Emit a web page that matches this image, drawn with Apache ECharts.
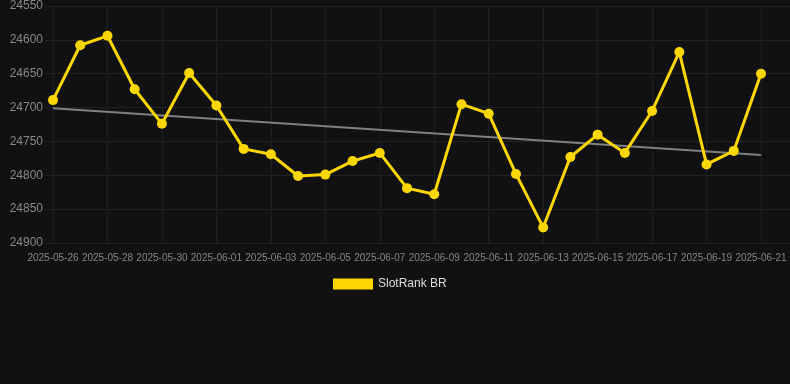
<!DOCTYPE html>
<html>
<head>
<meta charset="utf-8">
<script src="https://cdn.jsdelivr.net/npm/echarts@6/dist/echarts.min.js"></script>
<style>
html,body{margin:0;padding:0;background:#111111;}
#chart{width:790px;height:384px;}
</style>
</head>
<body>
<div id="chart"></div>
<script>
const categories = ['2025-05-26','2025-05-27','2025-05-28','2025-05-29','2025-05-30','2025-05-31','2025-06-01','2025-06-02','2025-06-03','2025-06-04','2025-06-05','2025-06-06','2025-06-07','2025-06-08','2025-06-09','2025-06-10','2025-06-11','2025-06-12','2025-06-13','2025-06-14','2025-06-15','2025-06-16','2025-06-17','2025-06-18','2025-06-19','2025-06-20','2025-06-21'];
const rankValues = [24689,24608,24594,24673,24724,24649,24697,24761,24769,24801,24799,24779,24767,24819,24828,24695,24709,24798,24877,24773,24740,24767,24705,24618,24784,24764,24650];
const trendEnds = [24701, 24770];
const seriesName = 'SlotRank BR';
const yMin = 24550, yMax = 24900, yStep = 50;

const chart = echarts.init(document.getElementById('chart'), null, {renderer:'canvas'});
chart.setOption({
  backgroundColor: '#111111',
  animation: false,
  legend: {
    data: [seriesName],
    top: 278,
    left: 333,
    padding: 0,
    icon: 'rect',
    itemWidth: 40,
    itemHeight: 11,
    itemGap: 10,
    textStyle: {color: '#dddddd', fontSize: 12, fontFamily: 'Liberation Sans, Arial, sans-serif'}
  },
  grid: [
    {left: 53, right: 29, top: 6, bottom: 141, containLabel: false},
    {left: 45, right: 0, top: 6, bottom: 141, containLabel: false}
  ],
  xAxis: [
    {
      type: 'category', gridIndex: 0, data: categories, boundaryGap: false,
      axisLine: {show: false},
      axisTick: {show: false},
      axisLabel: {interval: 1, color: '#858585', fontSize: 10, fontFamily: 'Liberation Sans, Arial, sans-serif', margin: 10},
      splitLine: {show: true, interval: 1, lineStyle: {color: '#1f1f1f', width: 1}}
    },
    {
      type: 'category', gridIndex: 1, data: categories, show: false
    }
  ],
  yAxis: [
    {
      type: 'value', gridIndex: 0, inverse: true, min: yMin, max: yMax, interval: yStep,
      axisLine: {show: false}, axisTick: {show: false},
      axisLabel: {color: '#888888', fontSize: 12, fontFamily: 'Liberation Sans, Arial, sans-serif', margin: 10,
        formatter: function (v) { return String(v); }},
      splitLine: {show: false}
    },
    {
      type: 'value', gridIndex: 1, inverse: true, min: yMin, max: yMax, interval: yStep,
      axisLine: {show: false}, axisTick: {show: false}, axisLabel: {show: false},
      splitLine: {show: true, lineStyle: {color: '#222222', width: 1}}
    }
  ],
  series: [
    {
      name: 'trend', type: 'line', xAxisIndex: 0, yAxisIndex: 0,
      data: [[categories[0], trendEnds[0]], [categories[categories.length-1], trendEnds[1]]],
      symbol: 'none', silent: true,
      lineStyle: {color: '#808080', width: 2},
      z: 1
    },
    {
      name: seriesName, type: 'line', xAxisIndex: 0, yAxisIndex: 0,
      data: rankValues,
      symbol: 'circle', symbolSize: 10,
      itemStyle: {color: '#FFD700'},
      lineStyle: {color: '#FFD700', width: 3},
      z: 3
    }
  ]
});
</script>
</body>
</html>
